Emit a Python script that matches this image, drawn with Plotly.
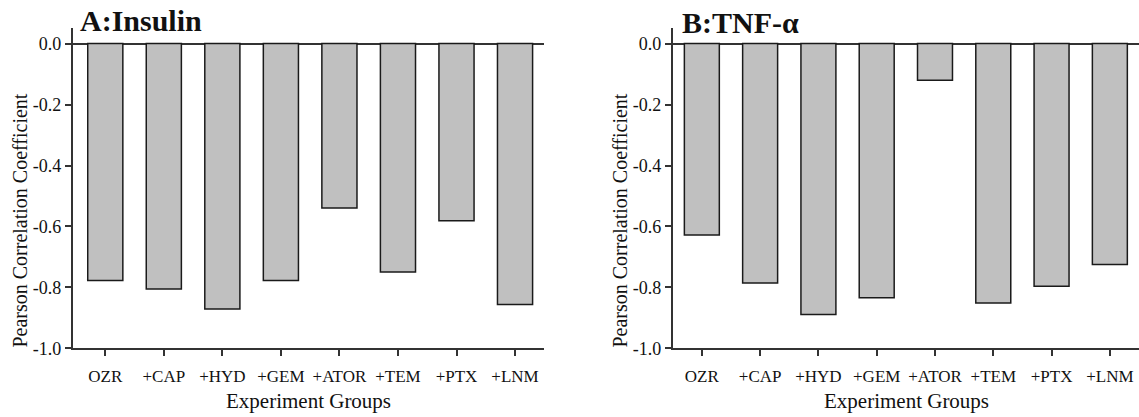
import plotly.graph_objects as go

groups = ["OZR", "+CAP", "+HYD", "+GEM", "+ATOR", "+TEM", "+PTX", "+LNM"]
insulin = [-0.777, -0.805, -0.871, -0.777, -0.539, -0.749, -0.581, -0.856]
tnf = [-0.628, -0.785, -0.889, -0.834, -0.12, -0.851, -0.796, -0.725]
yticks = [0.0, -0.2, -0.4, -0.6, -0.8, -1.0]
ytick_text = ["0.0", "-0.2", "-0.4", "-0.6", "-0.8", "-1.0"]

W, H = 1139, 417
FONT = "Liberation Serif"
TXT = "#111"

fig = go.Figure()
fig.add_trace(go.Bar(x=groups, y=insulin, xaxis="x", yaxis="y",
                     marker=dict(color="#C0C0C0", line=dict(color="#1a1a1a", width=1.5)),
                     showlegend=False))
fig.add_trace(go.Bar(x=groups, y=tnf, xaxis="x2", yaxis="y2",
                     marker=dict(color="#C0C0C0", line=dict(color="#1a1a1a", width=1.5)),
                     showlegend=False))

ydom = [(H - 357) / H, (H - 29) / H]

def xax(domain, rng):
    return dict(domain=domain, range=rng, showline=True, linecolor="#333", linewidth=1.5,
                ticks="outside", ticklen=6, tickcolor="#333", tickwidth=1.5,
                tickfont=dict(family=FONT, size=17, color=TXT), ticklabelstandoff=5,
                showgrid=False, zeroline=False, fixedrange=True)

def yax(anchor):
    return dict(domain=ydom, range=[-1.0, 0.05], anchor=anchor,
                showline=True, linecolor="#333", linewidth=1.5,
                ticks="outside", ticklen=6, tickcolor="#333", tickwidth=1.5,
                tickvals=yticks, ticktext=ytick_text,
                tickfont=dict(family=FONT, size=18, color=TXT),
                showgrid=False, zeroline=True, zerolinecolor="#333", zerolinewidth=1.5,
                fixedrange=True)

def ann(text, x, y, size, angle=0, xanchor="center", yanchor="middle"):
    return dict(text=text, x=x / W, y=(H - y) / H, xref="paper", yref="paper",
                xanchor=xanchor, yanchor=yanchor, showarrow=False, textangle=angle,
                font=dict(family=FONT, size=size, color=TXT))

fig.update_layout(
    width=W, height=H, margin=dict(l=0, r=0, t=0, b=0),
    paper_bgcolor="white", plot_bgcolor="white",
    bargap=0.4,
    xaxis=dict(**xax([72.5 / W, 544.3 / W], [-0.56, 7.5]), anchor="y"),
    yaxis=yax("x"),
    xaxis2=dict(**xax([672.7 / W, 1.0], [-0.5, 7.5]), anchor="y2"),
    yaxis2=yax("x2"),
    annotations=[
        ann("<b>A:Insulin</b>", 78, 40, 30, xanchor="left", yanchor="bottom"),
        ann("<b>B:TNF-α</b>", 680, 42, 30, xanchor="left", yanchor="bottom"),
        ann("Pearson Correlation Coefficient", 20, 226, 20, angle=-90),
        ann("Pearson Correlation Coefficient", 620, 226, 20, angle=-90),
        ann("Experiment Groups", 308, 411, 21),
        ann("Experiment Groups", 906, 411, 21),
    ],
)

fig.write_html("out.html")
